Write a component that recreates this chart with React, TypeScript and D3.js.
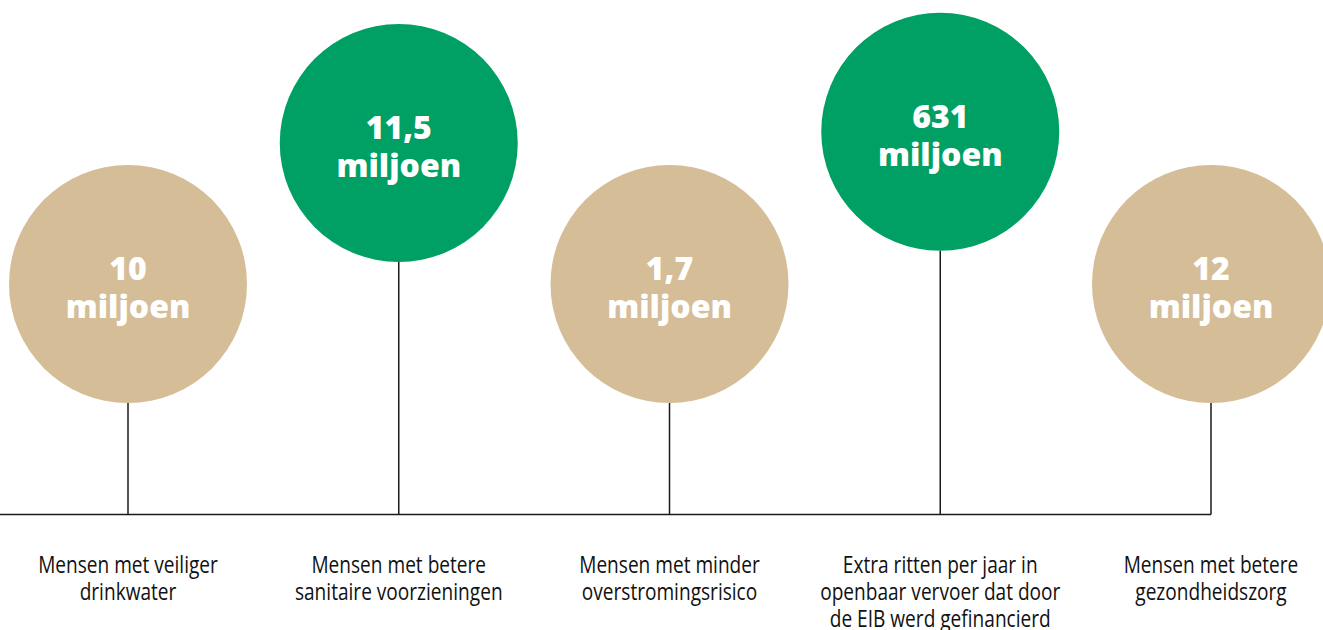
import { useRef, useEffect } from 'react';
import * as d3 from 'd3';

// Figures shown in the bubbles
const values = ['10', '11,5', '1,7', '631', '12'];
const unit = 'miljoen';
// How high each bubble floats above the baseline row (0 = low row, 1 = high row)
const lifts = [0, 1, 0, 1.08, 0];
const highlight = [false, true, false, true, false];
const labels = [
  ['Mensen met veiliger', 'drinkwater'],
  ['Mensen met betere', 'sanitaire voorzieningen'],
  ['Mensen met minder', 'overstromingsrisico'],
  ['Extra ritten per jaar in', 'openbaar vervoer dat door', 'de EIB werd gefinancierd'],
  ['Mensen met betere', 'gezondheidszorg'],
];

const W = 1323;
const H = 630;

function App() {
  const ref = useRef<SVGSVGElement | null>(null);

  useEffect(() => {
    const el = ref.current;
    if (!el) return;
    document.body.style.margin = '0';

    const svg = d3.select(el);
    svg.selectAll('*').remove();

    const r = 119;
    const baseY = 514.5;

    const x = d3.scalePoint<number>()
      .domain(d3.range(values.length))
      .range([128, 1211]);

    const y = d3.scaleLinear().domain([0, 1]).range([284, 143]);

    // horizontal baseline
    svg.append('line')
      .attr('x1', 0)
      .attr('x2', x(values.length - 1)!)
      .attr('y1', baseY)
      .attr('y2', baseY)
      .attr('stroke', '#1a1a1a')
      .attr('stroke-width', 1.5);

    const g = svg.selectAll('g.item')
      .data(values)
      .enter()
      .append('g')
      .attr('class', 'item')
      .attr('transform', (_, i) => `translate(${x(i)},0)`);

    // stems
    g.append('line')
      .attr('x1', 0)
      .attr('x2', 0)
      .attr('y1', (_, i) => y(lifts[i]) + r)
      .attr('y2', baseY)
      .attr('stroke', '#1a1a1a')
      .attr('stroke-width', 1.5);

    g.append('circle')
      .attr('cx', 0)
      .attr('cy', (_, i) => y(lifts[i]))
      .attr('r', r)
      .attr('fill', (_, i) => (highlight[i] ? '#00A064' : '#D5BD97'));

    const txt = g.append('text')
      .attr('text-anchor', 'middle')
      .attr('fill', '#fff')
      .attr('font-family', '"Open Sans", "Noto Sans", sans-serif')
      .attr('font-weight', 800)
      .attr('font-size', 32);

    txt.append('tspan')
      .attr('x', 0)
      .attr('y', (_, i) => y(lifts[i]) - 4)
      .text(d => d);
    txt.append('tspan')
      .attr('x', 0)
      .attr('y', (_, i) => y(lifts[i]) + 34)
      .text(unit);

    // captions below the baseline (condensed face, squeezed horizontally)
    g.append('g')
      .attr('transform', 'scale(0.83,1)')
      .append('text')
      .attr('text-anchor', 'middle')
      .attr('fill', '#111')
      .attr('font-family', '"Open Sans", "Noto Sans", sans-serif')
      .attr('font-size', 23)
      .selectAll('tspan')
      .data((_, i) => labels[i])
      .enter()
      .append('tspan')
      .attr('x', 0)
      .attr('y', (_, j) => 573 + j * 27)
      .text(d => d);
  }, []);

  return (
    <svg
      ref={ref}
      width={W}
      height={H}
      style={{ display: 'block', background: '#fff' }}
    />
  );
}

export default App;
